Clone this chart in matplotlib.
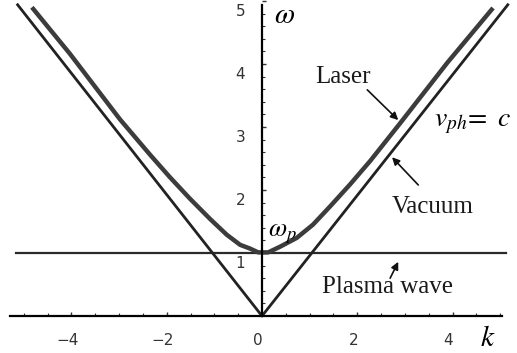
import numpy as np
import matplotlib.pyplot as plt
import matplotlib.transforms as mtransforms

plt.rcParams["mathtext.fontset"] = "stix"

# laser branch  omega = omega(k)
laser_k = [-4.83, -4.03, -2.98, -2.35, -1.93, -1.51, -1.09, -0.74, -0.46,
           -0.25, -0.08, 0.13, 0.38, 0.73, 1.07, 1.43, 1.85, 2.27, 2.48,
           2.90, 3.89, 4.85]
laser_w = [4.90, 4.16, 3.12, 2.56, 2.20, 1.86, 1.54, 1.29, 1.13,
           1.07, 1.01, 1.01, 1.10, 1.24, 1.45, 1.74, 2.09, 2.46, 2.66,
           3.06, 4.02, 4.89]

# light line in vacuum (v_ph = c)
vacuum_k = [-5.13, 0.0, 5.16]
vacuum_w = [4.94, 0.0, 4.94]

# plasma wave: flat at omega_p
plasma_k = [-5.17, 5.13]
plasma_w = [1.0, 1.0]

xticks = [-4, -2, 0, 2, 4]
yticks = [1, 2, 3, 4, 5]

fig = plt.figure(figsize=(5.17, 3.53), dpi=100)
ax = fig.add_axes([10 / 517, 37 / 353, 504 / 517, 315 / 353])

ax.plot(plasma_k, plasma_w, color="#2a2a2a", lw=1.6, clip_on=False)
ax.plot(vacuum_k, vacuum_w, color="#222222", lw=2.0, clip_on=False)
ax.plot(laser_k, laser_w, color="#3c3c3c", lw=3.2, clip_on=False,
        solid_capstyle="butt", solid_joinstyle="round")

ax.set_xlim(-5.29, 5.29)
ax.set_ylim(0, 5)

for s in ["top", "right"]:
    ax.spines[s].set_visible(False)
ax.spines["left"].set_position(("data", 0))
ax.spines["left"].set_bounds(0, 4.94)
ax.spines["bottom"].set_bounds(-5.29, 5.04)
ax.spines["left"].set_linewidth(1.6)
ax.spines["bottom"].set_linewidth(1.6)

ax.set_xticks(xticks)
ax.set_xticklabels(["\u22124", "\u22122", "0", "2", "4"])
ax.set_xticks(np.arange(-5, 5.01, 0.5), minor=True)
ax.set_yticks(yticks)
ax.set_yticks(np.arange(0.2, 4.95, 0.2), minor=True)
ax.tick_params(axis="both", which="both", direction="in", color="#333333")
ax.tick_params(axis="both", which="major", length=3, width=1, labelsize=11,
               labelcolor="#333333")
ax.tick_params(axis="both", which="minor", length=2, width=0.8)
ax.tick_params(axis="x", which="major", pad=12)
ax.tick_params(axis="y", which="major", pad=12)

# nudge the tick numbers like the printed figure
dx = mtransforms.ScaledTranslation(-4 / 100, 0, fig.dpi_scale_trans)
dy = mtransforms.ScaledTranslation(0, -9 / 100, fig.dpi_scale_trans)
for lab in ax.get_xticklabels():
    lab.set_transform(lab.get_transform() + dx)
for lab in ax.get_yticklabels():
    lab.set_transform(lab.get_transform() + dy)

serif = dict(family="Liberation Serif", fontsize=18, color="#1a1a1a")
arrow = dict(arrowstyle="-|>", lw=1.2, color="#111111", mutation_scale=11,
             shrinkA=0, shrinkB=0)

ax.text(0.48, 4.78, r"$\omega$", fontsize=21, ha="center", va="center")
ax.text(4.73, -0.35, r"$k$", fontsize=21, ha="center", va="center",
        clip_on=False)

ax.text(1.70, 3.79, "Laser", ha="center", va="center", **serif)
ax.annotate("", xy=(2.86, 3.11), xytext=(2.21, 3.59), arrowprops=arrow)

ax.text(4.43, 3.08, r"$v_{ph}\!=\ c$", fontsize=20, ha="center", va="center")

ax.text(3.59, 1.73, "Vacuum", ha="center", va="center", **serif)
ax.annotate("", xy=(2.73, 2.52), xytext=(3.28, 2.08), arrowprops=arrow)

ax.text(2.63, 0.46, "Plasma wave", ha="center", va="center", **serif)
ax.annotate("", xy=(2.86, 0.86), xytext=(2.69, 0.60), arrowprops=arrow)

ax.text(0.42, 1.31, r"$\omega_p$", fontsize=19, ha="center", va="center")

fig.savefig("out.png", dpi=100)
